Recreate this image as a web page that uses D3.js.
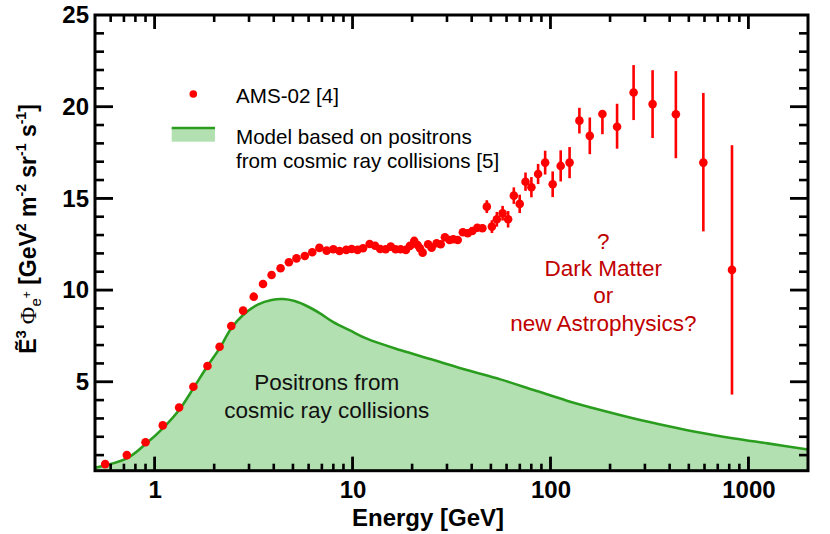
<!DOCTYPE html>
<html>
<head>
<meta charset="utf-8">
<script src="https://cdn.jsdelivr.net/npm/d3@7"></script>
</head>
<body style="margin:0">
<svg id="chart" width="830" height="534" font-family="'Liberation Sans', Arial, Helvetica, sans-serif"></svg>
<script>
// ---- Data ----
const AMS_ENERGY = [0.563, 0.724, 0.90, 1.10, 1.33, 1.57, 1.85, 2.13, 2.44, 2.80, 3.17, 3.53, 3.90, 4.33, 4.77, 5.21, 5.74, 6.26,
  6.8, 7.4, 8.0, 8.6, 9.3, 9.9, 10.6, 11.3, 12.2, 13.0, 13.8, 14.7, 15.6, 16.5, 17.5, 18.6, 19.5, 20.5, 21.3, 21.9, 22.6,
  24.1, 25.1, 26.6, 27.9, 29.3, 30.9, 32.3, 34.0, 36.1, 38.2, 40.3, 42.7, 45.3, 47.7, 50.6, 53.6, 57.3, 61.1, 65.3, 69.9,
  74.8, 80.1, 86.6, 94, 102.6, 112.6, 124.9, 140, 158, 183, 217, 263, 328, 430, 592, 826];
const AMS_FLUX = [0.51, 1.0, 1.7, 2.62, 3.6, 4.73, 5.86, 6.91, 8.04, 8.88, 9.64, 10.33, 10.82, 11.19, 11.52, 11.73, 11.86, 12.06,
  12.30, 12.15, 12.23, 12.13, 12.19, 12.24, 12.19, 12.28, 12.51, 12.42, 12.24, 12.23, 12.37, 12.23, 12.23, 12.19, 12.41, 12.68, 12.46, 12.28, 12.04,
  12.5, 12.31, 12.55, 12.5, 12.88, 12.73, 12.77, 12.73, 13.15, 13.1, 13.22, 13.4, 13.37, 14.55, 13.46, 13.86, 14.19, 13.86, 15.15, 14.7,
  15.91, 15.61, 16.33, 16.95, 15.77, 16.77, 16.95, 19.24, 18.41, 19.6, 18.91, 20.77, 20.14, 19.59, 16.95, 11.1];
const AMS_ERR_LO = [0.05, 0.05, 0.05, 0.05, 0.05, 0.05, 0.05, 0.05, 0.05, 0.05, 0.05, 0.05, 0.05, 0.05, 0.05, 0.05, 0.05, 0.05,
  0.08, 0.08, 0.08, 0.08, 0.08, 0.08, 0.08, 0.08, 0.08, 0.08, 0.08, 0.08, 0.08, 0.08, 0.08, 0.08, 0.08, 0.15, 0.15, 0.15, 0.15,
  0.15, 0.15, 0.15, 0.15, 0.15, 0.2, 0.2, 0.2, 0.2, 0.2, 0.2, 0.2, 0.2, 0.35, 0.35, 0.4, 0.4, 0.45, 0.45, 0.5,
  0.5, 0.55, 0.55, 0.65, 0.7, 0.85, 0.85, 0.7, 1.0, 1.1, 1.2, 1.5, 1.85, 2.4, 3.75, 6.8];
const AMS_ERR_HI = [0.05, 0.05, 0.05, 0.05, 0.05, 0.05, 0.05, 0.05, 0.05, 0.05, 0.05, 0.05, 0.05, 0.05, 0.05, 0.05, 0.05, 0.05,
  0.08, 0.08, 0.08, 0.08, 0.08, 0.08, 0.08, 0.08, 0.08, 0.08, 0.08, 0.08, 0.08, 0.08, 0.08, 0.08, 0.08, 0.15, 0.15, 0.15, 0.15,
  0.15, 0.15, 0.15, 0.15, 0.15, 0.2, 0.2, 0.2, 0.2, 0.2, 0.2, 0.2, 0.2, 0.35, 0.35, 0.4, 0.4, 0.45, 0.45, 0.5,
  0.5, 0.55, 0.55, 0.65, 0.7, 0.85, 0.85, 0.7, 1.0, 0.1, 1.25, 1.5, 1.85, 2.35, 3.8, 6.8];

const MODEL_ENERGY = [0.5, 0.724, 0.9, 1.10, 1.33, 1.57, 1.85, 2.13, 2.44, 2.8, 3.34, 3.9, 4.46, 5.1, 5.98, 6.85, 8.0, 9.7,
  11.8, 17.4, 25.7, 37.8, 55.8, 82.3, 121, 179, 264, 390, 575, 848, 1251, 2000];
const MODEL_FLUX = [0.31, 0.82, 1.6, 2.46, 3.46, 4.64, 5.86, 6.82, 7.92, 8.64, 9.22, 9.46, 9.51, 9.4, 9.09, 8.73, 8.25, 7.8,
  7.35, 6.73, 6.19, 5.64, 5.13, 4.55, 3.97, 3.46, 3.0, 2.59, 2.22, 1.91, 1.64, 1.31];

const X_TICKS = [1, 10, 100, 1000];
const X_MINOR = [0.6, 0.7, 0.8, 0.9, 2, 3, 4, 5, 6, 7, 8, 9, 20, 30, 40, 50, 60, 70, 80, 90,
  200, 300, 400, 500, 600, 700, 800, 900];
const Y_TICKS = [5, 10, 15, 20];
const Y_MINOR = [1, 2, 3, 4, 6, 7, 8, 9, 11, 12, 13, 14, 16, 17, 18, 19, 21, 22, 23, 24];
const Y_LABELS = [5, 10, 15, 20, 25];

const LEGEND_LABELS = ["AMS-02 [4]", "Model based on positrons", "from cosmic ray collisions [5]"];
const MODEL_LABEL = ["Positrons from", "cosmic ray collisions"];
const QUESTION_LABEL = ["?", "Dark Matter", "or", "new Astrophysics?"];
const X_TITLE = "Energy [GeV]";

// ---- Layout ----
const L = 95, R = 808, T = 15, B = 470.7;
const svg = d3.select("#chart");
svg.append("rect").attr("width", 830).attr("height", 534).attr("fill", "#fff");

const x = d3.scaleLog().domain([0.5, 2000]).range([L, R]);
const y = d3.scaleLinear().domain([0.15, 25]).range([B, T]);

const RED = "#ff0000";
const GREEN_LINE = "#2a9d1f";
const GREEN_FILL = "#b3e0b1";

const model = MODEL_ENERGY.map((e, i) => ({ e, v: MODEL_FLUX[i] }));
const area = d3.area().x(d => x(d.e)).y0(B).y1(d => y(d.v)).curve(d3.curveCatmullRom.alpha(0.5));
const line = d3.line().x(d => x(d.e)).y(d => y(d.v)).curve(d3.curveCatmullRom.alpha(0.5));

svg.append("path").datum(model).attr("d", area).attr("fill", GREEN_FILL);
svg.append("path").datum(model).attr("d", line).attr("fill", "none").attr("stroke", GREEN_LINE).attr("stroke-width", 2.6);

// ---- AMS data ----
const ams = AMS_ENERGY.map((e, i) => ({ e, v: AMS_FLUX[i], lo: AMS_ERR_LO[i], hi: AMS_ERR_HI[i] }));
const dg = svg.append("g");
dg.selectAll("line.err").data(ams).join("line").attr("class", "err")
  .attr("x1", d => x(d.e)).attr("x2", d => x(d.e))
  .attr("y1", d => y(d.v - d.lo)).attr("y2", d => y(d.v + d.hi))
  .attr("stroke", RED).attr("stroke-width", 2.6);
dg.selectAll("circle").data(ams).join("circle")
  .attr("cx", d => x(d.e)).attr("cy", d => y(d.v)).attr("r", 4.3).attr("fill", RED);

// ---- Frame ----
svg.append("rect").attr("x", L).attr("y", T).attr("width", R - L).attr("height", B - T)
  .attr("fill", "none").attr("stroke", "black").attr("stroke-width", 3);

// ---- Axis labels from d3 axes ----
const fmt = d3.format("d");
function addAxis(axis, tx, ty) {
  const a = svg.append("g").attr("transform", `translate(${tx},${ty})`).call(axis);
  a.selectAll("text").attr("font-size", 24).attr("font-weight", "bold");
  return a;
}
addAxis(d3.axisBottom(x).tickValues(X_TICKS).tickFormat(fmt).tickSizeInner(-14).tickSizeOuter(0).tickPadding(10), 0, B);
addAxis(d3.axisLeft(y).tickValues(Y_LABELS).tickFormat(fmt).tickSizeInner(-18).tickSizeOuter(0).tickPadding(6), L, 0);

// ---- Inward tick marks as filled bars (positions from the scales) ----
const tg = svg.append("g").attr("fill", "black");
function xBars(vals, len, w) {
  vals.forEach(v => {
    tg.append("rect").attr("x", x(v) - w / 2).attr("y", B - len).attr("width", w).attr("height", len);
    tg.append("rect").attr("x", x(v) - w / 2).attr("y", T).attr("width", w).attr("height", len);
  });
}
function yBars(vals, len, w) {
  vals.forEach(v => {
    tg.append("rect").attr("x", L).attr("y", y(v) - w / 2).attr("width", len).attr("height", w);
    tg.append("rect").attr("x", R - len).attr("y", y(v) - w / 2).attr("width", len).attr("height", w);
  });
}
xBars(X_TICKS, 14, 2.8);
xBars(X_MINOR, 7, 2.6);
yBars(Y_TICKS, 18, 2.8);
yBars(Y_MINOR, 9, 2.6);

// ---- Axis titles ----
svg.append("text").attr("x", 428).attr("y", 526).attr("text-anchor", "middle")
  .attr("font-size", 24).attr("font-weight", "bold").text(X_TITLE);

const yl = svg.append("text").attr("transform", "translate(36,229) rotate(-90)")
  .attr("text-anchor", "middle").attr("font-size", 23).attr("font-weight", "bold").attr("fill", "#000");
yl.append("tspan").text("Ẽ");
yl.append("tspan").attr("font-size", 15).attr("dy", -10).text("3");
yl.append("tspan").attr("dy", 10).attr("font-family", "'Liberation Serif', 'DejaVu Serif', serif")
  .attr("font-weight", "normal").attr("font-size", 24).text(" Φ");
yl.append("tspan").attr("dy", 5).attr("font-size", 15).attr("font-weight", "normal").text("e");
yl.append("tspan").attr("dy", -10).attr("font-size", 12).attr("font-weight", "normal").text("+");
yl.append("tspan").attr("dy", 5).text(" [GeV");
yl.append("tspan").attr("dy", -10).attr("font-size", 14).text("2");
yl.append("tspan").attr("dy", 10).text(" m");
yl.append("tspan").attr("dy", -10).attr("font-size", 14).text("-2");
yl.append("tspan").attr("dy", 10).text(" sr");
yl.append("tspan").attr("dy", -10).attr("font-size", 14).text("-1");
yl.append("tspan").attr("dy", 10).text(" s");
yl.append("tspan").attr("dy", -10).attr("font-size", 14).text("-1");
yl.append("tspan").attr("dy", 10).text("]");

// ---- Legend ----
svg.append("circle").attr("cx", 193.3).attr("cy", 94).attr("r", 3.8).attr("fill", RED);
svg.append("text").attr("x", 236).attr("y", 102.5).attr("font-size", 20.6).attr("fill", "#000").text(LEGEND_LABELS[0]);
svg.append("rect").attr("x", 171.7).attr("y", 128).attr("width", 43.3).attr("height", 13.7).attr("fill", GREEN_FILL);
svg.append("line").attr("x1", 171.7).attr("x2", 215).attr("y1", 128).attr("y2", 128)
  .attr("stroke", GREEN_LINE).attr("stroke-width", 2.6);
svg.append("text").attr("x", 236).attr("y", 144).attr("font-size", 20.6).attr("fill", "#000").text(LEGEND_LABELS[1]);
svg.append("text").attr("x", 236).attr("y", 168.3).attr("font-size", 20.6).attr("fill", "#000").text(LEGEND_LABELS[2]);

// ---- Annotations ----
MODEL_LABEL.forEach((t, i) => {
  svg.append("text").attr("x", 326.7).attr("y", 390 + i * 28).attr("text-anchor", "middle")
    .attr("font-size", 22.5).attr("fill", "#111").text(t);
});
QUESTION_LABEL.forEach((t, i) => {
  svg.append("text").attr("x", 603.3).attr("y", 248.5 + i * 27.4).attr("text-anchor", "middle")
    .attr("font-size", 22.5).attr("fill", "#c00000").text(t);
});
</script>
</body>
</html>
